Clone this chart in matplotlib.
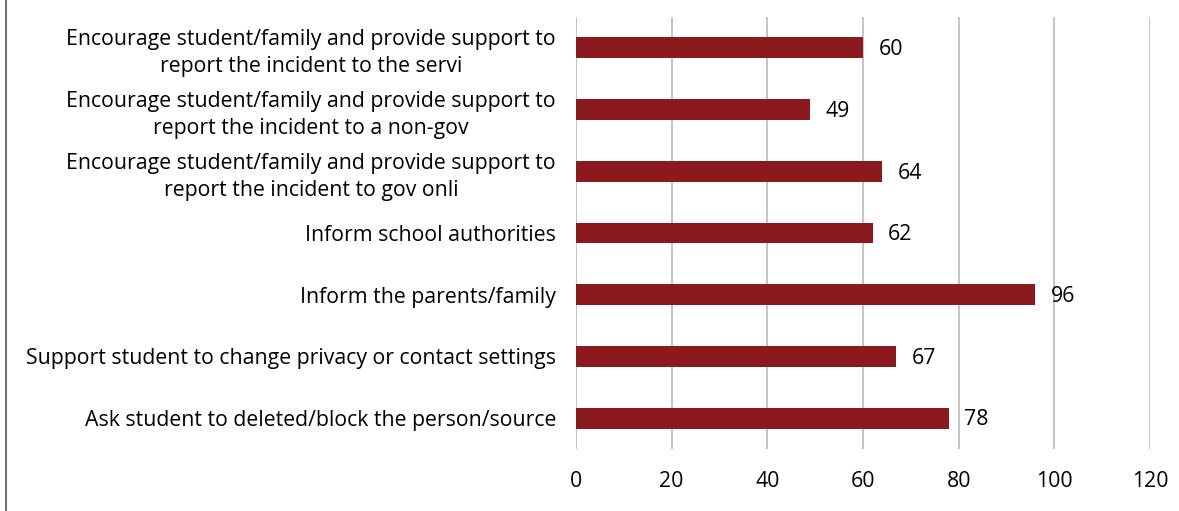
import matplotlib.pyplot as plt
from matplotlib.lines import Line2D

plt.rcParams['font.family'] = ['Open Sans', 'DejaVu Sans']

labels = [
    'Encourage student/family and provide support to\nreport the incident to the servi',
    'Encourage student/family and provide support to\nreport the incident to a non-gov',
    'Encourage student/family and provide support to\nreport the incident to gov onli',
    'Inform school authorities',
    'Inform the parents/family',
    'Support student to change privacy or contact settings',
    'Ask student to deleted/block the person/source',
]
values = [60, 49, 64, 62, 96, 67, 78]
xticks = [0, 20, 40, 60, 80, 100, 120]

bar_color = '#8B1A1F'
fs = 15.3

fig = plt.figure(figsize=(11.79, 5.11), dpi=100)
ax = fig.add_axes([576 / 1179, 1 - 449 / 511, 574 / 1179, 432 / 511])

ypos = list(range(len(labels)))[::-1]
ax.barh(ypos, values, height=0.34, color=bar_color, zorder=3)
for y, v in zip(ypos, values):
    ax.text(v + 3.2, y - 0.03, str(v), va='center', ha='left', fontsize=fs, zorder=4)

ax.set_xlim(0, 120)
ax.set_ylim(-0.5, len(labels) - 0.5)
ax.set_xticks(xticks)
ax.set_yticks(ypos)
ax.set_yticklabels(labels, fontsize=fs, multialignment='center', linespacing=1.37)
ax.tick_params(axis='both', length=0, labelsize=fs)
ax.tick_params(axis='x', pad=16)
ax.tick_params(axis='y', pad=14.4)
ax.grid(axis='x', color='#BFBFBF', linewidth=1.3, zorder=0)
for s in ax.spines.values():
    s.set_visible(False)

# thin frame edge on the left side
fig.add_artist(Line2D([5.5 / 1179, 5.5 / 1179], [0, 1], transform=fig.transFigure,
                      color='#6E6E6E', linewidth=1.5))

fig.savefig('out.png', dpi=100)
